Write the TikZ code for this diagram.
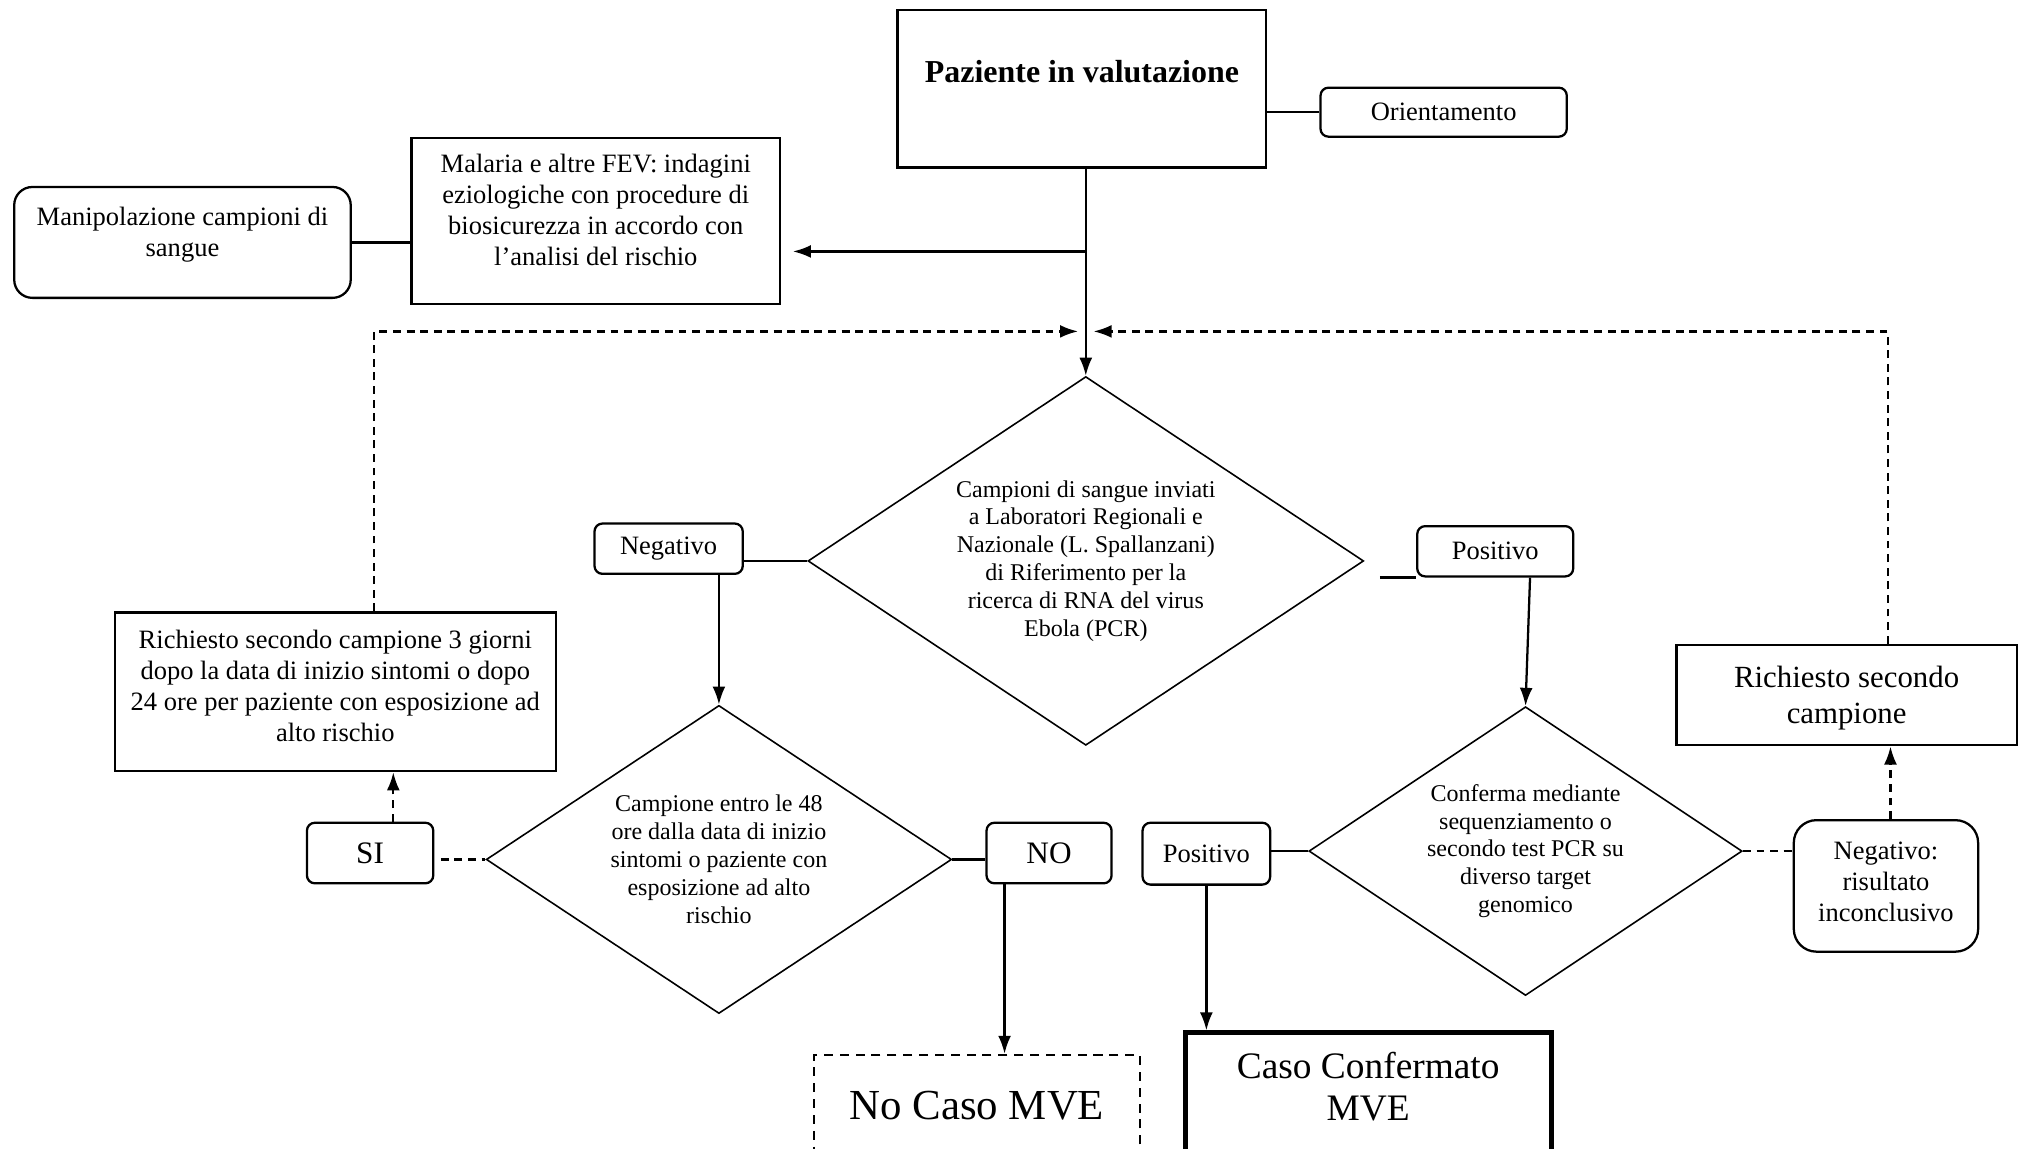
\documentclass[tikz,border=0pt]{standalone}
\usepackage{fontspec}
\setmainfont{Liberation Serif}
\usepackage{tikz}
\usetikzlibrary{shapes.geometric, arrows.meta}

\tikzset{
  box/.style={draw, line width=1pt, align=center, inner sep=2pt, font=\fontsize{11.7}{13.7}\selectfont},
  rbox/.style={box, rounded corners=3.5pt},
  dia/.style={draw, diamond, line width=0.7pt, inner sep=0pt, aspect=1.5, align=center, font=\fontsize{10.6}{12.3}\selectfont},
  conn/.style={line width=1pt},
  arr/.style={conn, -{Latex[length=2.8mm,width=2mm]}},
  dconn/.style={conn, dash pattern=on 3.5pt off 2.5pt},
  darr/.style={dconn, -{Latex[length=2.8mm,width=2mm]}},
}

\begin{document}
\begin{tikzpicture}[x=0.02cm, y=-0.02cm]
\useasboundingbox (0,0) rectangle (1568,891);
\clip (0,0) rectangle (1568,891);

% top row
\node[box, minimum width=5.72cm, minimum height=2.44cm, text depth=0.56cm, font=\fontsize{14.1}{16}\selectfont\bfseries] (pz) at (839,69) {Paziente in valutazione};
\node[rbox, minimum width=3.82cm, minimum height=0.76cm] (or) at (1119.5,87) {Orientamento};
\node[box, minimum width=5.72cm, minimum height=2.58cm, text depth=0.34cm] (mal) at (462,171.5) {Malaria e altre FEV: indagini\\eziologiche con procedure di\\biosicurezza in accordo con\\l’analisi del rischio};
\node[rbox, rounded corners=8pt, minimum width=5.22cm, minimum height=1.72cm, text depth=0.34cm] (man) at (141.5,188) {Manipolazione campioni di\\sangue};

% first test
\node[dia, minimum width=8.62cm, minimum height=5.72cm] (d1) at (842,435) {Campioni di sangue inviati\\a Laboratori Regionali e\\Nazionale (L. Spallanzani)\\di Riferimento per la\\ricerca di RNA del virus\\Ebola (PCR)};
\node[rbox, minimum width=2.3cm, minimum height=0.78cm] (neg) at (518.5,425.5) {Negativo};
\node[rbox, minimum width=2.42cm, minimum height=0.78cm] (pos1) at (1159.5,427.5) {Positivo};

% negative branch
\node[dia, minimum width=7.22cm, minimum height=4.78cm] (d2) at (557.5,666.5) {Campione entro le 48\\ore dalla data di inizio\\sintomi o paziente con\\esposizione ad alto\\rischio};
\node[rbox, minimum width=1.96cm, minimum height=0.94cm, font=\fontsize{13.8}{16}\selectfont] (si) at (287,661.5) {SI};
\node[box, minimum width=6.84cm, minimum height=2.46cm, text depth=0.18cm] (rl) at (260,536.5) {Richiesto secondo campione 3 giorni\\dopo la data di inizio sintomi o dopo\\24 ore per paziente con esposizione ad\\alto rischio};
\node[rbox, minimum width=1.94cm, minimum height=0.94cm, font=\fontsize{13.8}{16}\selectfont] (no) at (813.5,661.5) {NO};
\node[box, line width=0.9pt, dash pattern=on 4pt off 3pt, minimum width=5.06cm, minimum height=1.74cm, text depth=0.16cm, font=\fontsize{18.9}{22}\selectfont] (nc) at (757.5,861.5) {No Caso MVE};

% positive branch
\node[dia, minimum width=6.72cm, minimum height=4.48cm] (d3) at (1183,660) {Conferma mediante\\sequenziamento o\\secondo test PCR su\\diverso target\\genomico};
\node[rbox, minimum width=1.98cm, minimum height=0.96cm] (pos2) at (935.5,662) {Positivo};
\node[box, line width=2.2pt, minimum width=5.68cm, minimum height=2.08cm, text depth=0.42cm, font=\fontsize{16.5}{18.8}\selectfont] (cc) at (1061,853) {Caso Confermato\\MVE};
\node[rbox, rounded corners=10pt, minimum width=2.86cm, minimum height=2.04cm, text depth=0.12cm] (neg2) at (1462.5,687) {Negativo:\\risultato\\inconclusivo};
\node[box, minimum width=5.28cm, minimum height=1.56cm, text depth=0cm, font=\fontsize{13.6}{16}\selectfont] (rr) at (1432,539) {Richiesto secondo\\campione};

\coordinate (j1) at (842,195);
\coordinate (j2) at (842,257);
\coordinate (lt) at (290,257);
\coordinate (rt) at (1464,257);
\coordinate (p1l) at (1070,0);

% connectors
\draw[conn] (pz.east |- or.west) -- (or.west);
\draw[conn] (man.east) -- (mal.west |- man.east);
\draw[arr] (pz.south -| d1.north) -- (d1.north);
\draw[arr, shorten >=0.18cm] (j1) -- (mal.east |- j1);
\draw[darr, shorten >=0.12cm] (rl.north -| lt) -- (lt) -- (j2);
\draw[darr, shorten >=0.12cm] (rr.north -| rt) -- (rt) -- (j2);

\draw[conn] (neg.east |- d1.west) -- (d1.west);
\draw[arr] (neg.south -| d2.north) -- (d2.north);
\draw[conn] (p1l |- pos1.south west) -- (pos1.south west);
\draw[arr] ([xshift=0.54cm]pos1.south) -- (d3.north);

\draw[dconn] ([xshift=0.1cm]si.east |- d2.west) -- (d2.west);
\draw[darr] ([xshift=0.36cm]si.north) -- ([xshift=0.36cm]si.north |- rl.south);
\draw[conn] (d2.east) -- (no.west |- d2.east);
\draw[arr] ([xshift=-0.69cm]no.south) -- ([xshift=-0.69cm]no.south |- nc.north);

\draw[conn] (pos2.east |- d3.west) -- (d3.west);
\draw[arr] (pos2.south) -- (pos2.south |- cc.north);
\draw[dconn] (d3.east) -- (neg2.west |- d3.east);
\draw[darr] ([xshift=0.07cm]neg2.north) -- ([xshift=0.07cm]neg2.north |- rr.south);
\end{tikzpicture}
\end{document}
